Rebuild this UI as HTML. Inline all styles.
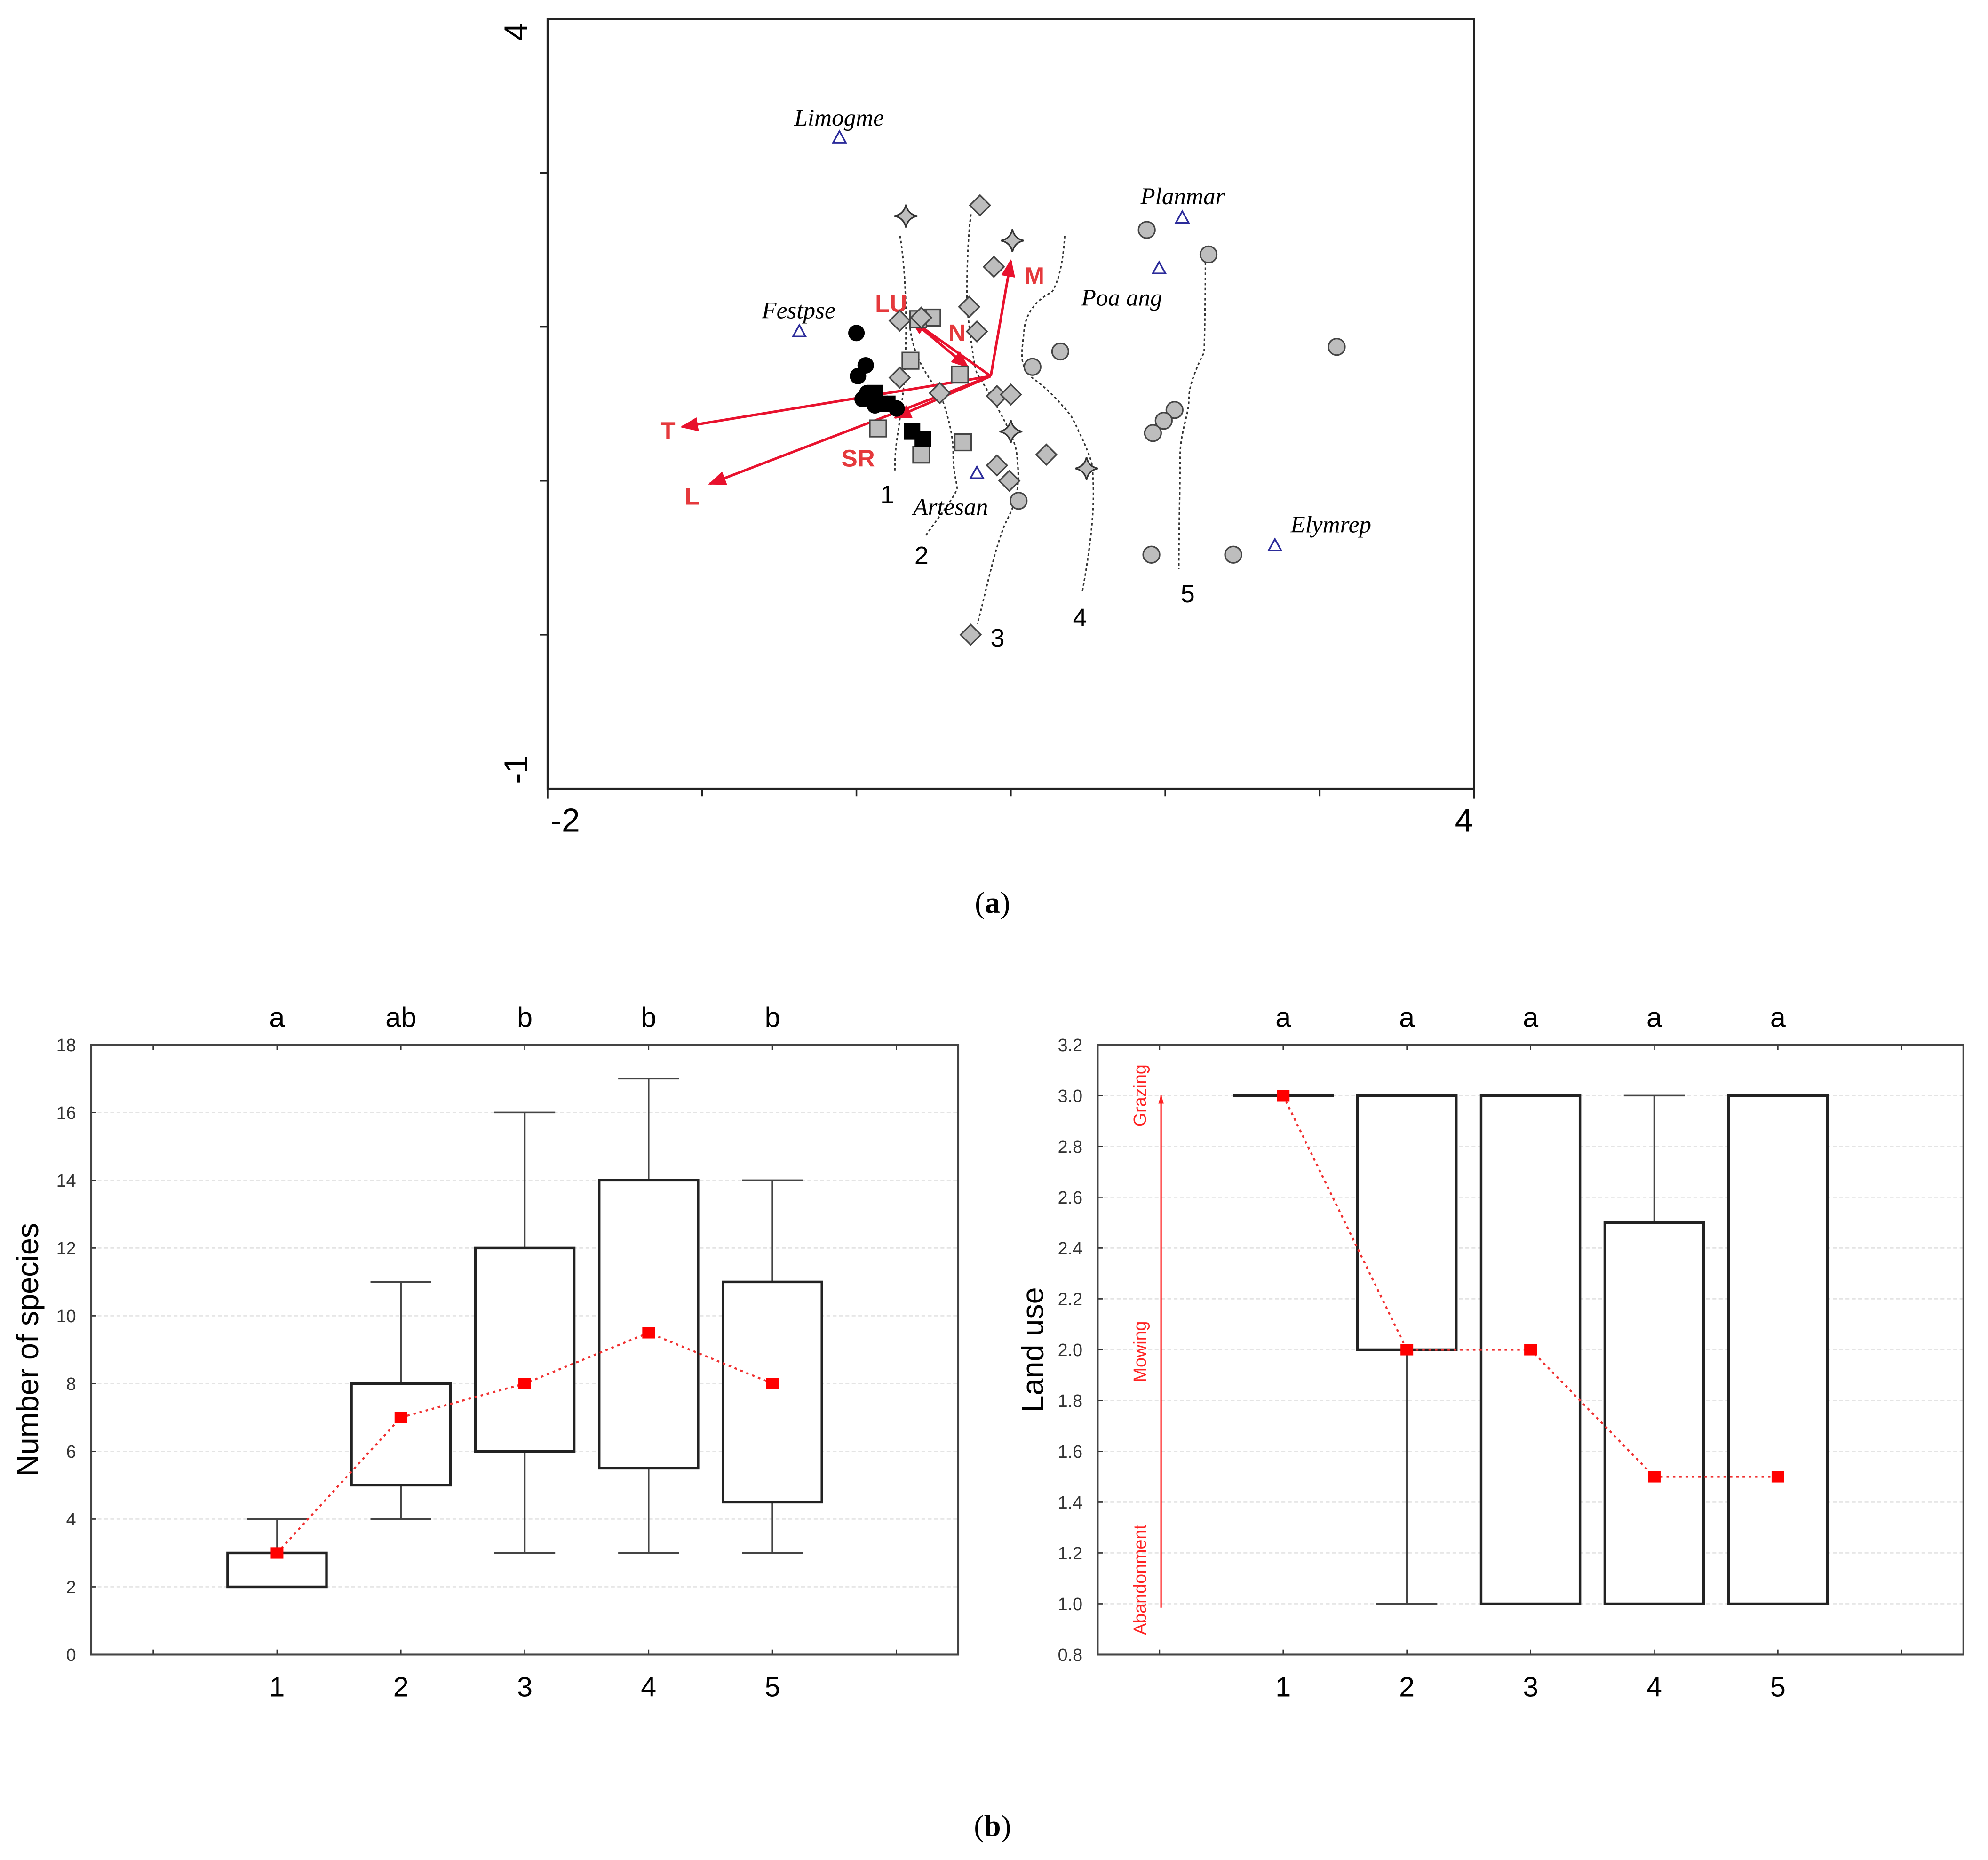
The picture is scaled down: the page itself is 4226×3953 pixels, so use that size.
<!DOCTYPE html>
<html><head><meta charset="utf-8"><style>
html,body{margin:0;padding:0;background:#fff;}
svg{display:block;}
</style></head><body>
<svg id="svg" width="4226" height="3953" viewBox="0 0 1568.4 1467" preserveAspectRatio="none" xmlns="http://www.w3.org/2000/svg" font-family="Liberation Sans, sans-serif">
<g id="gA"></g>
<g id="gB"></g>
<g id="gC"></g>
<text x="783" y="720" text-anchor="middle" font-size="24" font-family="Liberation Serif, serif">(<tspan font-weight="bold">a</tspan>)</text>
<text x="783" y="1448" text-anchor="middle" font-size="24" font-family="Liberation Serif, serif">(<tspan font-weight="bold">b</tspan>)</text>
</svg>
<script>
// ---------- Panel (a) data ----------
const blackCirclesX=[0.00,0.06,0.01,0.04,0.12,0.20,0.26,0.07];
const blackCirclesY=[1.96,1.75,1.68,1.53,1.49,1.50,1.47,1.57];
const blackSquaresX=[0.12,0.20,0.36,0.43];
const blackSquaresY=[1.57,1.50,1.32,1.27];
const graySquaresX=[0.49,0.40,0.35,0.67,0.14,0.69,0.42];
const graySquaresY=[2.06,2.05,1.78,1.69,1.34,1.25,1.17];
const diamondsX=[0.80,0.89,0.73,0.28,0.42,0.78,0.28,0.54,0.91,1.00,1.23,0.91,0.99,0.74];
const diamondsY=[2.79,2.39,2.13,2.04,2.06,1.97,1.67,1.57,1.55,1.56,1.17,1.10,1.00,0.00];
const starsX=[0.32,1.01,1.00,1.49];
const starsY=[2.72,2.56,1.32,1.08];
const grayCirclesX=[1.88,2.28,3.11,1.32,1.14,2.06,1.99,1.92,1.05,1.91,2.44];
const grayCirclesY=[2.63,2.47,1.87,1.84,1.74,1.46,1.39,1.31,0.87,0.52,0.52];
const speciesNames=["Limogme","Planmar","","Festpse","Artesan","Elymrep"];
const speciesX=[-0.11,2.11,1.96,-0.37,0.78,2.71];
const speciesY=[3.23,2.71,2.38,1.97,1.05,0.58];
const arrowNames=["M","N","T","L","SR"];
const arrowX=[1.00,0.35,-1.13,-0.95,0.25];
const arrowY=[2.43,2.05,1.35,0.98,1.41];
const arrowOriginX=0.87, arrowOriginY=1.68;

// ---------- Panel (b) data ----------
const cats=[1,2,3,4,5];
const spLetters=["a","ab","b","b","b"];
const spMin=[2,4,3,3,3];
const spQ1=[2,5,6,5.5,4.5];
const spQ3=[3,8,12,14,11];
const spMax=[4,11,16,17,14];
const spMean=[3,7,8,9.5,8];
const spTicks=[0,2,4,6,8,10,12,14,16,18];

const luLetters=["a","a","a","a","a"];
const luMin=[3,1,1,1,1];
const luQ1=[3,2,1,1,1];
const luQ3=[3,3,3,2.5,3];
const luMax=[3,3,3,3,3];
const luMean=[3,2,2,1.5,1.5];
const luTicks=[0.8,1.0,1.2,1.4,1.6,1.8,2.0,2.2,2.4,2.6,2.8,3.0,3.2];

const NS="http://www.w3.org/2000/svg";
function mk(parent,tag,attrs,txt){const e=document.createElementNS(NS,tag);for(const k in attrs)e.setAttribute(k,attrs[k]);if(txt!==undefined)e.textContent=txt;parent.appendChild(e);return e;}

// ---------- Panel (a) ----------
(function(){
const g=document.getElementById('gA');
const L=432,R=1163,T=15,B=622;
const ax=v=>L+(v+2)/6*(R-L);
const ay=v=>B-(v+1)/5*(B-T);
let e=mk(g,'rect',{x:L,y:T,width:R-L,height:B-T,fill:'none',stroke:'#222','stroke-width':1.6});


for(let v=-1;v<=3;v++){e=mk(g,'line',{x1:ax(v),x2:ax(v),y1:B,y2:B+6,stroke:'#222','stroke-width':1.3});

}
for(let v=0;v<=3;v++){e=mk(g,'line',{x1:L-6,x2:L,y1:ay(v),y2:ay(v),stroke:'#222','stroke-width':1.3});

}
e=mk(g,'line',{x1:L,x2:L,y1:B,y2:B+8,stroke:'#222','stroke-width':1.3});e=mk(g,'line',{x1:R,x2:R,y1:B,y2:B+8,stroke:'#222','stroke-width':1.3});
e=mk(g,'text',{x:446,y:656,'font-size':26,'text-anchor':'middle'},'-2');


e=mk(g,'text',{x:1155,y:656,'font-size':26,'text-anchor':'middle'},'4');


e=mk(g,'text',{x:0,y:0,'font-size':26,'text-anchor':'middle',transform:'translate(416,25) rotate(-90)'},'4');


e=mk(g,'text',{x:0,y:0,'font-size':26,'text-anchor':'middle',transform:'translate(416,607) rotate(-90)'},'-1');


const contours=[
"M710,186 C716,220 716,280 712,314 S706,350 706,371",
"M718,259 C722,290 740,305 743,314 S752,340 752,357 S755,380 755,385 S735,415 730,423",
"M766,169 C762,200 763,243 763,243 S768,290 771,295 S800,340 802,357 S805,390 795,409 S775,480 771,492",
"M840,186 C838,220 830,231 829,231 S810,240 808,260 S803,290 817,300 S845,328 845,328 S862,360 862,370 S866,400 854,466",
"M951,207 C951,240 950,278 950,278 S938,300 938,314 S931,340 931,361 S930,420 930,449"];
contours.forEach(d=>{e=mk(g,'path',{d:d,fill:'none',stroke:'#333','stroke-width':1.2,'stroke-dasharray':'2 2'});

});
const clab=[["1",700,397],["2",727,445],["3",787,510],["4",852,494],["5",937,475]];
clab.forEach(c=>{e=mk(g,'text',{x:c[1],y:c[2],'font-size':20,'text-anchor':'middle'},c[0]);

});
const red='#e8112d';
mk(g,'defs',{}).innerHTML='<marker id="ah" viewBox="0 0 10 10" refX="9" refY="5" markerWidth="7" markerHeight="7" orient="auto"><path d="M0,1 L10,5 L0,9 z" fill="'+red+'"/></marker>';
arrowX.forEach((v,i)=>{e=mk(g,'line',{x1:ax(arrowOriginX),y1:ay(arrowOriginY),x2:ax(v),y2:ay(arrowY[i]),stroke:red,'stroke-width':2,'marker-end':'url(#ah)'});

});
e=mk(g,'line',{x1:ax(0.35),y1:ay(2.05),x2:ax(0.72),y2:ay(1.74),stroke:red,'stroke-width':2,'marker-end':'url(#ah)'});


const rl=[["M",816,224],["LU",703,246],["N",755,269],["T",527,346],["SR",677,368],["L",546,398]];
rl.forEach(c=>{e=mk(g,'text',{x:c[1],y:c[2],'font-size':19,'font-weight':'bold',fill:'#e5393c','text-anchor':'middle'},c[0]);

});
const gray='#bdbdbd';
grayCirclesX.forEach((v,i)=>{e=mk(g,'circle',{cx:ax(v),cy:ay(grayCirclesY[i]),r:6.5,fill:gray,stroke:'#444','stroke-width':1.2});

});
graySquaresX.forEach((v,i)=>{e=mk(g,'rect',{x:ax(v)-6.5,y:ay(graySquaresY[i])-6.5,width:13,height:13,fill:gray,stroke:'#444','stroke-width':1.2});

});
diamondsX.forEach((v,i)=>{const x=ax(v),y=ay(diamondsY[i]);e=mk(g,'path',{d:`M${x},${y-8} L${x+8},${y} L${x},${y+8} L${x-8},${y} Z`,fill:gray,stroke:'#444','stroke-width':1.2});

});
starsX.forEach((v,i)=>{const x=ax(v),y=ay(starsY[i]);e=mk(g,'path',{d:`M${x},${y-9} Q${x+1.5},${y-1.5} ${x+9},${y} Q${x+1.5},${y+1.5} ${x},${y+9} Q${x-1.5},${y+1.5} ${x-9},${y} Q${x-1.5},${y-1.5} ${x},${y-9} Z`,fill:gray,stroke:'#333','stroke-width':1.2});

});
blackCirclesX.forEach((v,i)=>{e=mk(g,'circle',{cx:ax(v),cy:ay(blackCirclesY[i]),r:6.5,fill:'#000'});

});
blackSquaresX.forEach((v,i)=>{e=mk(g,'rect',{x:ax(v)-6.5,y:ay(blackSquaresY[i])-6.5,width:13,height:13,fill:'#000'});

});
speciesX.forEach((v,i)=>{const x=ax(v),y=ay(speciesY[i]);e=mk(g,'path',{d:`M${x},${y-5} L${x+5},${y+4} L${x-5},${y+4} Z`,fill:'none',stroke:'#2b2b9a','stroke-width':1.3});

});
const sl=[["Limogme",662,99],["Planmar",933,161],["Festpse",630,251],["Poa ang",885,241],["Artesan",750,406],["Elymrep",1050,420]];
sl.forEach(c=>{e=mk(g,'text',{x:c[1],y:c[2],'font-size':19,'font-style':'italic','text-anchor':'middle','font-family':'Liberation Serif, serif'},c[0]);

});
})();

// ---------- Box plots ----------
function boxPanel(gid,L,R,T,B,vmin,vmax,ticks,dec,letters,mins,q1,q3,maxs,means,title,titleX){
const g=document.getElementById(gid);
const sx=c=>L+(c+0.5)/7*(R-L);
const sy=v=>B-(v-vmin)/(vmax-vmin)*(B-T);
let e;
ticks.forEach(t=>{e=mk(g,'line',{x1:L,x2:R,y1:sy(t),y2:sy(t),stroke:'#e4e4e4','stroke-width':1,'stroke-dasharray':'3 2'});


e=mk(g,'line',{x1:L,x2:L+4,y1:sy(t),y2:sy(t),stroke:'#333','stroke-width':1});
e=mk(g,'text',{x:L-12,y:sy(t)+5,'font-size':14,'text-anchor':'end',fill:'#333'},t.toFixed(dec));

});
for(let c=0;c<=6;c++){e=mk(g,'line',{x1:sx(c),x2:sx(c),y1:B,y2:B-4,stroke:'#333','stroke-width':1});e=mk(g,'line',{x1:sx(c),x2:sx(c),y1:T,y2:T+4,stroke:'#333','stroke-width':1});}
e=mk(g,'rect',{x:L,y:T,width:R-L,height:B-T,fill:'none',stroke:'#444','stroke-width':1.5});


const bw=78,cw=48;
cats.forEach((c,i)=>{const x=sx(c);
e=mk(g,'line',{x1:x,x2:x,y1:sy(mins[i]),y2:sy(maxs[i]),stroke:'#444','stroke-width':1.3});


e=mk(g,'line',{x1:x-cw/2,x2:x+cw/2,y1:sy(mins[i]),y2:sy(mins[i]),stroke:'#444','stroke-width':1.3});
e=mk(g,'line',{x1:x-cw/2,x2:x+cw/2,y1:sy(maxs[i]),y2:sy(maxs[i]),stroke:'#444','stroke-width':1.3});
e=mk(g,'rect',{x:x-bw/2,y:sy(q3[i]),width:bw,height:Math.max(0.1,sy(q1[i])-sy(q3[i])),fill:'#fff',stroke:'#222','stroke-width':2});


e=mk(g,'text',{x:x,y:T-14,'font-size':22,'text-anchor':'middle'},letters[i]);


e=mk(g,'text',{x:x,y:B+33,'font-size':22,'text-anchor':'middle'},String(c));


});
const pts=cats.map((c,i)=>sx(c)+','+sy(means[i])).join(' ');
e=mk(g,'polyline',{points:pts,fill:'none',stroke:'#f03030','stroke-width':1.6,'stroke-dasharray':'2 3'});


cats.forEach((c,i)=>{e=mk(g,'rect',{x:sx(c)-5,y:sy(means[i])-4.5,width:10,height:9,fill:'#f00'});

});
e=mk(g,'text',{x:0,y:0,'font-size':24,'text-anchor':'middle',transform:`translate(${titleX},${(T+B)/2}) rotate(-90)`},title);


return {g,sx,sy};
}
boxPanel('gB',72,756,824,1305,0,18,spTicks,0,spLetters,spMin,spQ1,spQ3,spMax,spMean,'Number of species',30);
const p=boxPanel('gC',866,1549,824,1305,0.8,3.2,luTicks,1,luLetters,luMin,luQ1,luQ3,luMax,luMean,'Land use',823);
(function(){
const g=p.g;const red='#f22';let e;
mk(g,'defs',{}).innerHTML='<marker id="ah2" viewBox="0 0 10 10" refX="9" refY="5" markerWidth="6" markerHeight="8" orient="auto"><path d="M0,2 L10,5 L0,8 z" fill="'+red+'"/></marker>';
e=mk(g,'line',{x1:916,x2:916,y1:1268,y2:864,stroke:red,'stroke-width':1.2,'marker-end':'url(#ah2)'});


[["Grazing",864],["Mowing",1066],["Abandonment",1246]].forEach(c=>{e=mk(g,'text',{x:0,y:0,'font-size':14,fill:red,'text-anchor':'middle',transform:`translate(904,${c[1]}) rotate(-90)`},c[0]);

});
})();
</script>
</body></html>
